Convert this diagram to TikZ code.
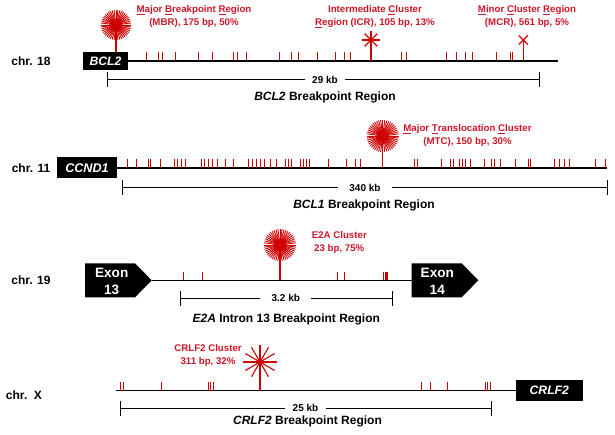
\documentclass[tikz,border=0pt]{standalone}
\usepackage{fontspec}
\setmainfont{Liberation Sans}
\definecolor{rd}{RGB}{206,0,0}
\definecolor{lbl}{RGB}{204,22,40}
\newcommand\myburst[2]{%
  \foreach \a in {0,7.5,...,352.5} \draw[rd,line width=0.9] (#1) -- ++(\a:#2);
  \fill[rd] (#1) circle (#2*0.35);}
\tikzset{
  chrlab/.style={font=\bfseries\fontsize{12}{14}\selectfont, inner sep=0},
  genebox/.style={fill=black, text=white, font=\bfseries\itshape\fontsize{12.2}{14}\selectfont, inner sep=0},
  exontext/.style={text=white, font=\bfseries\fontsize{13.6}{17}\selectfont, align=center, inner sep=0},
  chrline/.style={line width=1.3},
  scalebar/.style={line width=1},
  scalelab/.style={font=\bfseries\fontsize{10}{12}\selectfont, inner ysep=0},
  title/.style={font=\bfseries\fontsize{12}{14}\selectfont, inner sep=0},
  clab/.style={text=lbl, font=\bfseries\fontsize{9.7}{13}\selectfont, align=center, inner sep=0},
  tickmark/.style={rd, line width=0.75},
  stem/.style={rd, line width=1.2},
}
\begin{document}
\begin{tikzpicture}[x=1pt,y=-1pt]
\useasboundingbox (0,0) rectangle (615,435);
% ---------- Row 1: chr. 18 ----------
\node[chrlab] (chr18) at (31,61) {chr. 18};
\coordinate (e1) at (558,61);
\foreach \x in {146,158,162.3,175.7,198.3,212.3,233.3,237.7,246.3,279.3,291,298.3,317.3,335.7,344.3,350,401.7,406,446.7,456,465.7,472.7,496.7,510.7,512.7}
  \draw[tickmark] (\x,52) -- (\x,61);
\coordinate (mbr) at (116,25);
\draw[stem] (mbr) -- (116,53);
\myburst{mbr}{15}
\node[genebox, minimum width=45, minimum height=18] (bcl2) at (105.5,61) {BCL2};
\draw[chrline] (bcl2.east) -- (e1);
\coordinate (icr) at (371,40);
\draw[stem] (icr) -- (371,61);
\foreach \a in {0,45,...,315} \draw[rd,line width=1.2] (icr) -- ++(\a:9);
\coordinate (mcr) at (523.3,40);
\draw[stem] (mcr) -- (523.3,61);
\draw[rd,line width=1.3] (518.8,35.5) -- (527.8,44.5) (518.8,44.5) -- (527.8,35.5);
\node[clab] (mbrl) at (194,16.5) {\underline{M}ajor \underline{B}reakpoint \underline{R}egion\\(MBR), 175 bp, 50\%};
\node[clab] (icrl) at (375,16.5) {Intermediate \underline{C}luster\\\underline{R}egion (ICR), 105 bp, 13\%};
\node[clab] (mcrl) at (527,16.5) {\underline{M}inor \underline{C}luster \underline{R}egion\\(MCR), 561 bp, 5\%};
\coordinate (s1a) at (107,80);
\coordinate (s1b) at (539,80);
\node[scalelab, inner xsep=7] (s1l) at (325,80) {29 kb};
\draw[scalebar] (s1a) -- (s1l) -- (s1b);
\draw[scalebar] (107,72.5) -- (107,87.5) (539,72.5) -- (539,87.5);
\node[title] (t1) at (325,97) {\textit{BCL2} Breakpoint Region};
% ---------- Row 2: chr. 11 ----------
\node[chrlab] (chr11) at (31,168.5) {chr. 11};
\node[genebox, minimum width=60, minimum height=21, font=\bfseries\itshape\fontsize{12.6}{14}\selectfont] (ccnd1) at (87,168) {CCND1};
\coordinate (e2) at (607,168);
\draw[chrline] (ccnd1.east) -- (e2);
\foreach \x in {127.7,136.7,148.7,150.7,160.7,174,177.7,181.7,185.7,201.3,204.7,208.7,212.7,217.7,225.7,233.7,248.7,252.7,256.7,260.7,264.7,270.7,276.7,285.7,288.7,291.7,300,303,306,309,328.3,346,355,360.7,414.3,417.3,441,450.7,453.3,459.7,462.7,465.7,470.7,484,491,494.7,500,515,528.7,530.7,554.7,559.7,564.3,569.3,595.7,605.7}
  \draw[tickmark] (\x,159) -- (\x,168);
\coordinate (mtc) at (382.7,136);
\draw[stem] (mtc) -- (382.7,168);
\myburst{mtc}{16}
\node[clab] (mtcl) at (467.5,135.5) {\underline{M}ajor \underline{T}ranslocation \underline{C}luster\\(MTC), 150 bp, 30\%};
\coordinate (s2a) at (122.3,187.7);
\coordinate (s2b) at (607.3,187.7);
\node[scalelab, inner xsep=11] (s2l) at (365,187.7) {340 kb};
\draw[scalebar] (s2a) -- (s2l) -- (s2b);
\draw[scalebar] (122.3,180.2) -- (122.3,195.2) (607.3,180.2) -- (607.3,195.2);
\node[title] (t2) at (364,205.7) {\textit{BCL1} Breakpoint Region};
% ---------- Row 3: chr. 19 ----------
\node[chrlab] (chr19) at (31,280) {chr. 19};
\fill (85,263.3) -- (135,263.3) -- (151.7,280.3) -- (135,297.3) -- (85,297.3) -- cycle;
\fill (411.7,263.3) -- (461.7,263.3) -- (478.3,280.3) -- (461.7,297.3) -- (411.7,297.3) -- cycle;
\node[exontext] (ex13) at (111.7,281.5) {Exon\\13};
\node[exontext] (ex14) at (437.3,281.5) {Exon\\14};
\coordinate (x13) at (151.7,280.3);
\coordinate (x14) at (411.7,280.3);
\draw[chrline] (x13) -- (x14);
\foreach \x in {183.3,202.3,337.3,344,383.6,385.1,386.6,387.6}
  \draw[tickmark] (\x,271.7) -- (\x,280.3);
\coordinate (e2a) at (280,245);
\draw[stem] (e2a) -- (280,280.3);
\myburst{e2a}{16}
\node[clab] (e2al) at (339.3,242) {E2A Cluster\\23 bp, 75\%};
\coordinate (s3a) at (180,298.3);
\coordinate (s3b) at (392.7,298.3);
\node[scalelab, inner xsep=11] (s3l) at (285.8,298.3) {3.2 kb};
\draw[scalebar] (s3a) -- (s3l) -- (s3b);
\draw[scalebar] (180,290.8) -- (180,305.8) (392.7,290.8) -- (392.7,305.8);
\node[title] (t3) at (286.3,319) {\textit{E2A} Intron 13 Breakpoint Region};
% ---------- Row 4: chr. X ----------
\node[chrlab] (chrx) at (24,395) {chr.~~X};
\node[genebox, minimum width=66.7, minimum height=21] (crlf2) at (549.3,390.7) {CRLF2};
\coordinate (bx) at (116,390.7);
\draw[chrline] (bx) -- (crlf2.west);
\foreach \x in {120.7,123.3,161.7,208.3,210.7,213,421.3,430,447,485.7,487.7,490}
  \draw[tickmark] (\x,381.7) -- (\x,390.7);
\coordinate (crl) at (260,362);
\draw[stem] (crl) -- (260,390.7);
\foreach \a in {0,30,...,330} \draw[rd,line width=1.1] (crl) -- ++(\a:17);
\node[clab] (crll) at (208,355.5) {CRLF2 Cluster\\311 bp, 32\%};
\coordinate (s4a) at (120.7,408.3);
\coordinate (s4b) at (491.7,408.3);
\node[scalelab, inner xsep=8] (s4l) at (305.5,408.3) {25 kb};
\draw[scalebar] (s4a) -- (s4l) -- (s4b);
\draw[scalebar] (120.7,400.8) -- (120.7,415.8) (491.7,400.8) -- (491.7,415.8);
\node[title] (t4) at (307.5,421.7) {\textit{CRLF2} Breakpoint Region};
\end{tikzpicture}
\end{document}
